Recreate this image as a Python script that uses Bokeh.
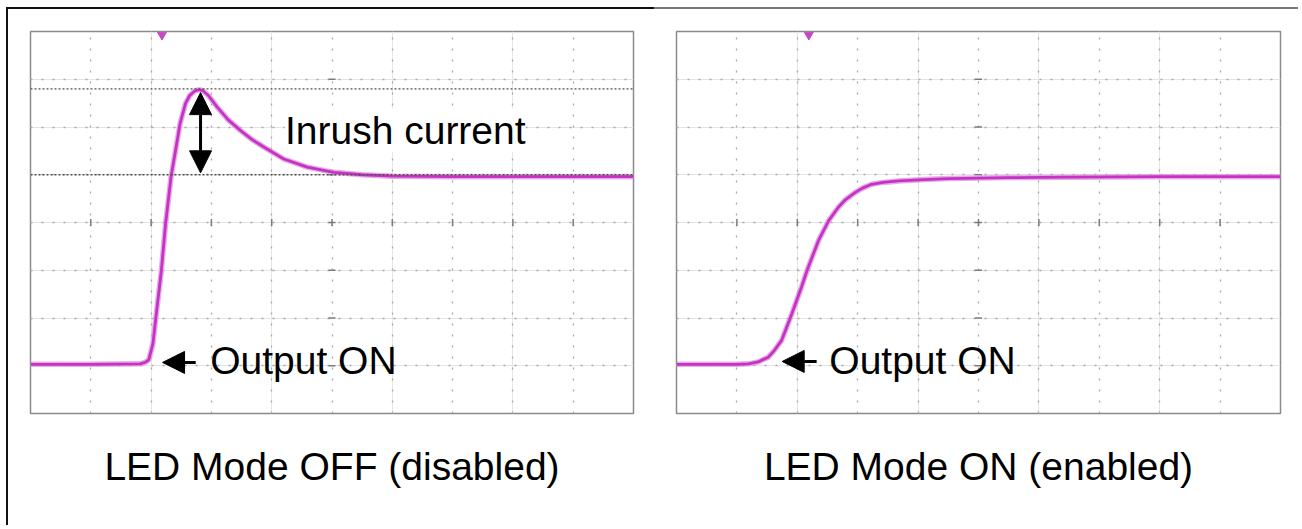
from bokeh.plotting import figure
from bokeh.models import Range1d, Grid, FixedTicker, Span, Label, Arrow, NormalHead, Title
from bokeh.layouts import row
from bokeh.embed import file_html
from bokeh.resources import INLINE

# ---- data (oscilloscope divisions: x 0..10, y 0..8) ----
off_t = [0.0, 1.0, 1.82, 1.90, 1.96, 2.03, 2.08, 2.17, 2.24, 2.33, 2.42, 2.48, 2.57, 2.64,
         2.72, 2.79, 2.86, 2.95, 3.10, 3.28, 3.48, 3.67, 3.87, 4.20, 4.59, 5.03, 5.5, 6.0,
         7.0, 8.0, 9.0, 10.0]
off_v = [1.03, 1.03, 1.04, 1.07, 1.12, 1.46, 2.02, 2.99, 3.97, 4.95, 5.62, 6.07, 6.49, 6.66,
         6.75, 6.78, 6.76, 6.66, 6.41, 6.15, 5.93, 5.74, 5.58, 5.33, 5.16, 5.05, 5.00, 4.97,
         4.96, 4.96, 4.96, 4.96]

on_t = [0.0, 1.0, 1.19, 1.35, 1.52, 1.62, 1.74, 1.91, 2.07, 2.16, 2.35, 2.52, 2.68, 2.80,
        2.96, 3.08, 3.23, 3.42, 3.68, 4.1, 4.5, 5.5, 6.5, 8.0, 10.0]
on_v = [1.03, 1.03, 1.04, 1.08, 1.18, 1.32, 1.53, 2.09, 2.65, 2.99, 3.62, 4.04, 4.32, 4.48,
        4.63, 4.72, 4.80, 4.84, 4.87, 4.90, 4.92, 4.94, 4.95, 4.96, 4.96]

x_div = list(range(0, 11))
y_div = list(range(0, 9))
ref_levels = [6.8, 5.0]          # peak / steady-state dotted markers (LED OFF)
trigger_x = [2.18, 2.19]
captions = ["LED Mode OFF (disabled)", "LED Mode ON (enabled)"]
output_arrow = [(2.74, 2.19, 1.07, 2.98), (2.32, 1.75, 1.09, 2.53)]  # tail x, tip x, y, text x

FONT = "Liberation Sans"
TRACE = "#c632c6"
HALO = "#dd98dd"


def scope(t, v, caption, idx, width, mbl, mbr, border_style):
    p = figure(width=width, height=518, x_range=Range1d(0, 10), y_range=Range1d(0, 8),
               x_axis_location=None, y_axis_location=None, toolbar_location=None,
               output_backend="svg", min_border_left=mbl, min_border_right=mbr,
               min_border_top=22, min_border_bottom=114,
               outline_line_color="#8a8a8a", outline_line_width=1.5,
               background_fill_color="white", border_fill_color="white")
    p.styles = border_style
    p.add_layout(Grid(dimension=0, ticker=FixedTicker(ticks=x_div[1:-1]),
                      grid_line_color="#a8a8a8", grid_line_dash="2 9", grid_line_width=1.3))
    p.add_layout(Grid(dimension=1, ticker=FixedTicker(ticks=y_div[1:-1]),
                      grid_line_color="#a8a8a8", grid_line_dash="2 9", grid_line_width=1.3))
    # centre graticule ticks
    p.scatter(x=[5] * 7, y=y_div[1:-1], marker="dash", size=7, line_color="#7a7a7a", line_width=1.5)
    p.scatter(x=x_div[1:-1], y=[4] * 9, marker="dash", angle=1.5708, size=7,
              line_color="#7a7a7a", line_width=1.5)

    if idx == 0:
        for lv in ref_levels:
            p.add_layout(Span(location=lv, dimension="width", line_color="#505050",
                              line_dash="2 2", line_width=1.3))

    p.line(t, v, line_color=HALO, line_width=5.5, line_alpha=0.8)
    p.line(t, v, line_color=TRACE, line_width=2.8)

    p.scatter(x=[trigger_x[idx]], y=[7.93], marker="inverted_triangle", size=9,
              fill_color="#c24ac2", line_color="#c24ac2")

    tx, hx, ay, lx = output_arrow[idx]
    p.add_layout(Arrow(end=NormalHead(size=22, fill_color="black", line_color="black"),
                       x_start=tx, y_start=ay, x_end=hx, y_end=ay,
                       line_color="black", line_width=3))
    p.add_layout(Label(x=lx, y=1.12, text="Output ON", text_font=FONT, text_font_size="39px",
                       text_color="black", text_baseline="middle"))

    if idx == 0:
        p.add_layout(Arrow(start=NormalHead(size=22, fill_color="black", line_color="black"),
                           end=NormalHead(size=22, fill_color="black", line_color="black"),
                           x_start=2.82, y_start=ref_levels[1] + 0.04,
                           x_end=2.82, y_end=ref_levels[0] - 0.08,
                           line_color="black", line_width=3))
        p.add_layout(Label(x=4.22, y=5.93, text="Inrush current", text_font=FONT,
                           text_font_size="39px", text_color="black", text_baseline="middle",
                           background_fill_color="white"))

    p.add_layout(Title(text=caption, align="center", text_font=FONT, text_font_size="39px",
                       text_font_style="normal", text_color="black", standoff=58), "below")
    return p


p1 = scope(off_t, off_v, captions[0], 0, 648, 22, 23,
           {"border-left": "2px solid #111", "border-top": "2px solid #111"})
p2 = scope(on_t, on_v, captions[1], 1, 644, 22, 18,
           {"border-top": "2px solid #777"})

layout = row(p1, p2, styles={"margin-left": "6px", "margin-top": "7px"})
open("out.html", "w").write(file_html(layout, INLINE))
